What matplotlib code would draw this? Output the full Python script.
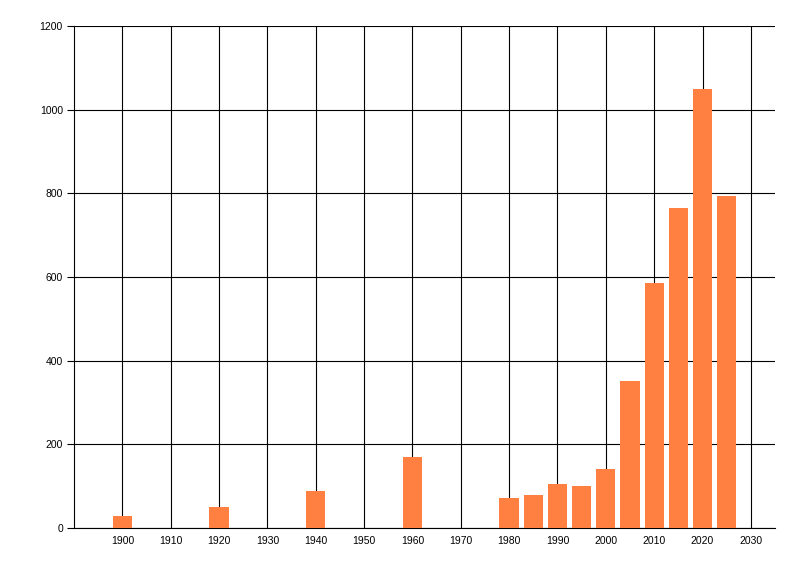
import matplotlib
matplotlib.use("Agg")
import matplotlib.pyplot as plt

# bar positions (year) and counts
years = [1900, 1920, 1940, 1960, 1980, 1985, 1990, 1995, 2000, 2005, 2010, 2015, 2020, 2025]
counts = [29, 51, 89, 170, 72, 79, 106, 101, 141, 351, 585, 764, 1049, 794]

x_ticks = list(range(1900, 2031, 10))
y_ticks = list(range(0, 1201, 200))

plt.rcParams['font.family'] = ['Liberation Sans', 'DejaVu Sans']

fig = plt.figure(figsize=(8, 5.76), dpi=100)
ax = fig.add_axes([0.0925, 0.0833, 0.8763, 0.8716])

ax.bar(years, counts, width=4, color='#FF8040', zorder=3)

ax.set_xlim(1890, 2035)
ax.set_ylim(0, 1200)
ax.set_xticks(x_ticks)
ax.set_yticks(y_ticks)
ax.tick_params(axis='x', length=0, pad=6, labelsize=7.5)
ax.tick_params(axis='y', length=5, width=0.8, pad=3, labelsize=7.5)

ax.grid(True, color='black', linewidth=0.8, zorder=0)
ax.set_axisbelow(True)

for side in ['top', 'right']:
    ax.spines[side].set_visible(False)
for side in ['left', 'bottom']:
    ax.spines[side].set_linewidth(0.8)

fig.savefig('out.png', dpi=100)
